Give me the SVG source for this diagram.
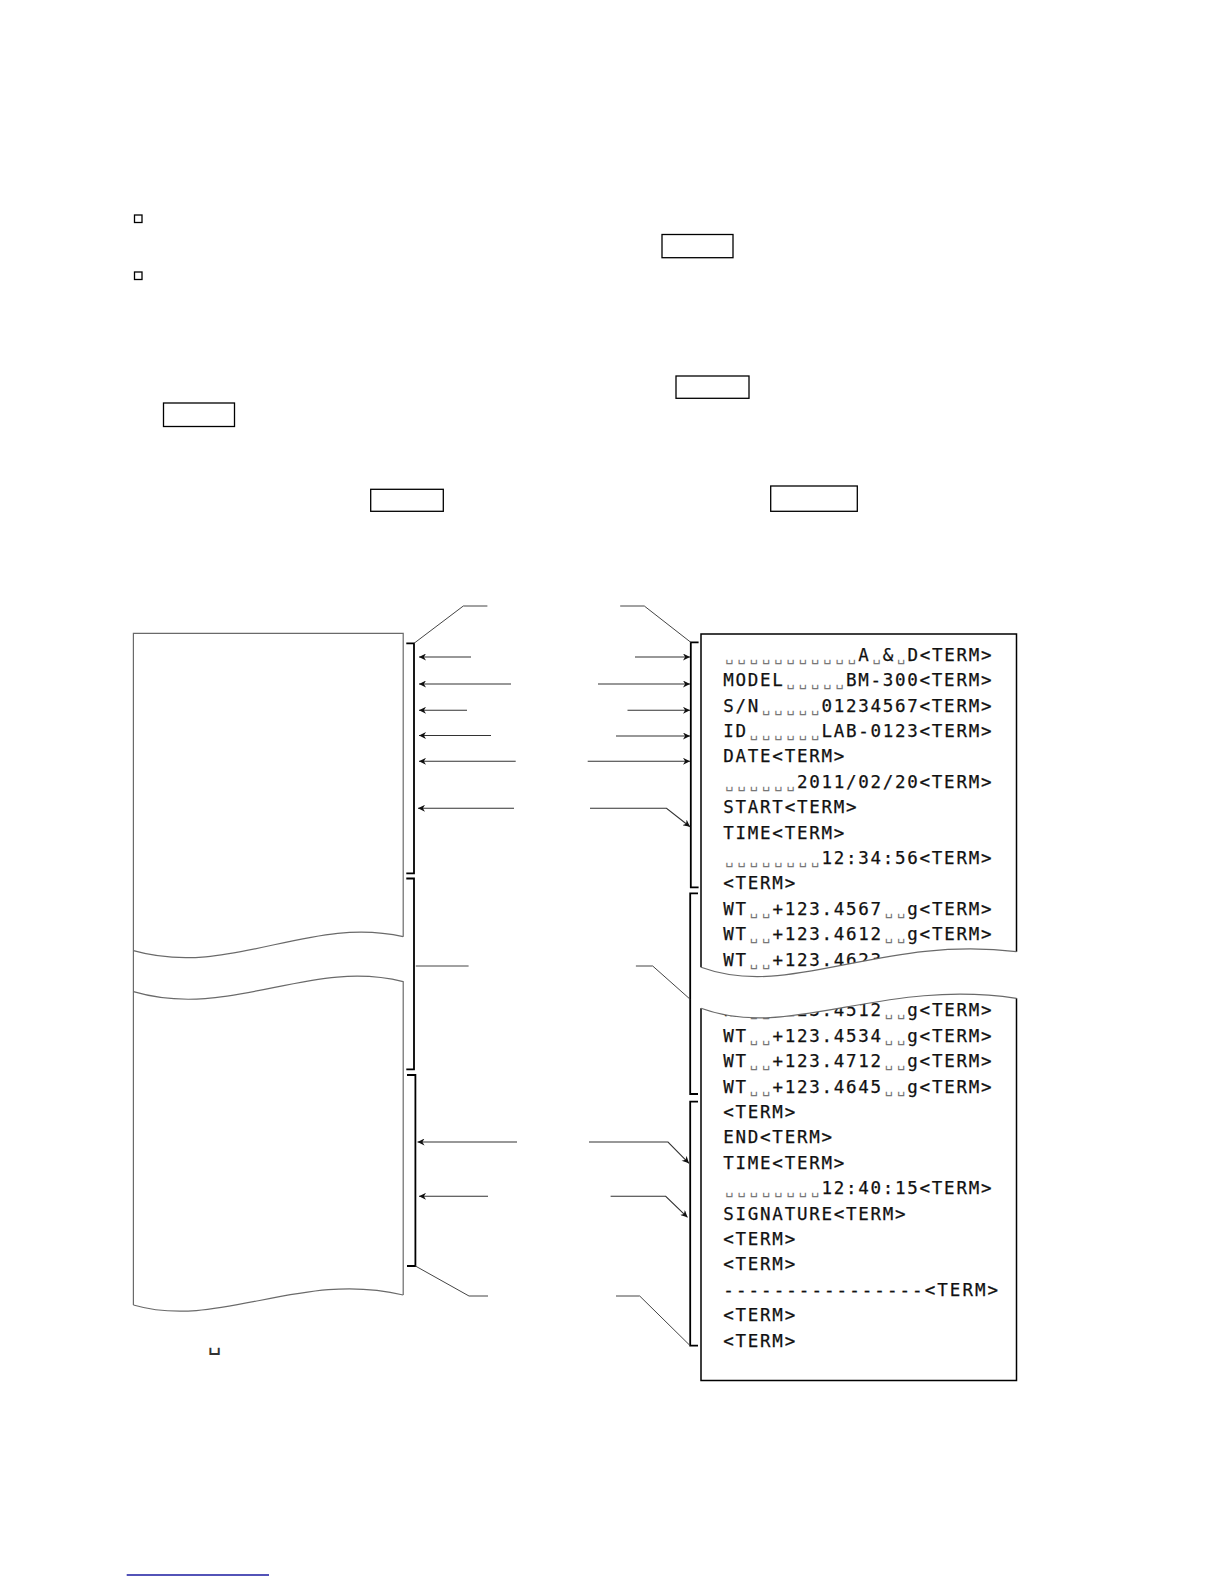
<svg xmlns="http://www.w3.org/2000/svg" width="1224" height="1584" viewBox="0 0 1224 1584">
<style>
.key{fill:none;stroke:#000;stroke-width:1.3}
.strip{fill:none;stroke:#6a6a6a;stroke-width:1.2}
.br{fill:none;stroke:#000;stroke-width:1.8}
.ld{fill:none;stroke:#444;stroke-width:1}
.ar{fill:none;stroke:#333;stroke-width:1.1;marker-end:url(#ah)}
.paper{fill:none;stroke:#000;stroke-width:1.5}
.t{font-family:"DejaVu Sans Mono","Liberation Mono",monospace;font-size:17.5px;letter-spacing:1.73px;fill:#111;stroke:#111;stroke-width:0.25}
.s{font-size:14px;letter-spacing:3.84px;fill:#777;stroke:none}
</style>
<defs>
<marker id="ah" viewBox="0 0 10 10" refX="10" refY="5" markerWidth="8" markerHeight="7" markerUnits="userSpaceOnUse" orient="auto">
<path d="M0,0 L10,5 L0,10 L3,5 Z" fill="#111"/>
</marker>
</defs>
<rect width="1224" height="1584" fill="#fff"/>

<g id="keys">
<rect id="sq1" class="key" x="134.5" y="215" width="7.5" height="7.5"/>
<rect id="sq2" class="key" x="134.5" y="272" width="7.5" height="7.5"/>
<rect id="box1" class="key" x="662" y="234.5" width="71" height="23.2"/>
<rect id="box2" class="key" x="676" y="376" width="73" height="22.3"/>
<rect id="box3" class="key" x="163.5" y="403" width="71" height="23.5"/>
<rect id="box4" class="key" x="370.7" y="489.3" width="72.6" height="22"/>
<rect id="box5" class="key" x="770.7" y="486" width="86.6" height="25.3"/>
</g>

<g id="left-strip">
<path class="strip" d="M133.4,1305 V633.3 H403.2 V936.7"/>
<path class="strip" d="M133.4,950.7 C230,978 310,915 403.2,936.7"/>
<path class="strip" d="M133.4,991.7 C230,1020 310,958 403.2,981.7 V1295"/>
<path class="strip" d="M133.4,1305 C220,1330 300,1270 403.2,1295"/>
</g>

<g id="brackets">
<path id="lb1" class="br" d="M406.3,643.3 H414 V873.3 H406.3"/>
<path id="lb2" class="br" d="M406.3,878.5 H414 V1069.3 H406.3"/>
<path id="lb3" class="br" d="M407,1075 H415.4 V1266 H407"/>
<path id="rb1" class="br" d="M698.6,642.3 H690.8 V887.3 H698.6"/>
<path id="rb2" class="br" d="M698,893.3 H690.2 V1094 H698"/>
<path id="rb3" class="br" d="M698,1101.7 H690.2 V1345.7 H698"/>
</g>

<g id="connectors">
<polyline class="ld" points="414,643.3 463.3,606 487.4,606"/>
<polyline class="ld" points="620.2,606 644.3,606 690.8,642.3"/>
<polyline class="ld" points="415.8,966 468.6,966"/>
<polyline class="ld" points="635.9,966 652.7,966 690.2,999.3"/>
<polyline class="ld" points="415.4,1266 469,1296 488,1296"/>
<polyline class="ld" points="616,1296 639.7,1296 690.2,1345.7"/>

<line class="ar" x1="471" y1="657" x2="419" y2="657"/>
<line class="ar" x1="511" y1="684" x2="419" y2="684"/>
<line class="ar" x1="467" y1="710.3" x2="419" y2="710.3"/>
<line class="ar" x1="491" y1="735.5" x2="419" y2="735.5"/>
<line class="ar" x1="515.7" y1="761.3" x2="419" y2="761.3"/>
<line class="ar" x1="514" y1="808.3" x2="418" y2="808.3"/>
<line class="ar" x1="517" y1="1142" x2="417.5" y2="1142"/>
<line class="ar" x1="488" y1="1196.3" x2="419" y2="1196.3"/>

<line class="ar" x1="635" y1="657" x2="690" y2="657"/>
<line class="ar" x1="598" y1="684" x2="690" y2="684"/>
<line class="ar" x1="627.5" y1="710.3" x2="690" y2="710.3"/>
<line class="ar" x1="616" y1="736" x2="690" y2="736"/>
<line class="ar" x1="587.7" y1="761.3" x2="690" y2="761.3"/>
<polyline class="ar" points="590,808.3 666.5,808.3 690,826.7"/>
<polyline class="ar" points="589,1142 668,1142 689,1163.3"/>
<polyline class="ar" points="610.6,1196.3 665.7,1196.3 687.5,1217.3"/>
</g>

<g id="printout">
<g class="t">
<text x="723.3" y="660.7"><tspan class="s" dx="1.9">␣␣␣␣␣␣␣␣␣␣␣</tspan><tspan dx="-1.9">A</tspan><tspan class="s" dx="1.9">␣</tspan><tspan dx="-1.9">&amp;</tspan><tspan class="s" dx="1.9">␣</tspan><tspan dx="-1.9">D&lt;TERM&gt;</tspan></text>
<text x="723.3" y="686.1">MODEL<tspan class="s" dx="1.9">␣␣␣␣␣</tspan><tspan dx="-1.9">BM-300&lt;TERM&gt;</tspan></text>
<text x="723.3" y="711.5">S/N<tspan class="s" dx="1.9">␣␣␣␣␣</tspan><tspan dx="-1.9">01234567&lt;TERM&gt;</tspan></text>
<text x="723.3" y="736.9">ID<tspan class="s" dx="1.9">␣␣␣␣␣␣</tspan><tspan dx="-1.9">LAB-0123&lt;TERM&gt;</tspan></text>
<text x="723.3" y="762.3">DATE&lt;TERM&gt;</text>
<text x="723.3" y="787.7"><tspan class="s" dx="1.9">␣␣␣␣␣␣</tspan><tspan dx="-1.9">2011/02/20&lt;TERM&gt;</tspan></text>
<text x="723.3" y="813.1">START&lt;TERM&gt;</text>
<text x="723.3" y="838.5">TIME&lt;TERM&gt;</text>
<text x="723.3" y="863.9"><tspan class="s" dx="1.9">␣␣␣␣␣␣␣␣</tspan><tspan dx="-1.9">12:34:56&lt;TERM&gt;</tspan></text>
<text x="723.3" y="889.3">&lt;TERM&gt;</text>
<text x="723.3" y="914.7">WT<tspan class="s" dx="1.9">␣␣</tspan><tspan dx="-1.9">+123.4567</tspan><tspan class="s" dx="1.9">␣␣</tspan><tspan dx="-1.9">g&lt;TERM&gt;</tspan></text>
<text x="723.3" y="940.1">WT<tspan class="s" dx="1.9">␣␣</tspan><tspan dx="-1.9">+123.4612</tspan><tspan class="s" dx="1.9">␣␣</tspan><tspan dx="-1.9">g&lt;TERM&gt;</tspan></text>
<text x="723.3" y="965.5">WT<tspan class="s" dx="1.9">␣␣</tspan><tspan dx="-1.9">+123.4623</tspan></text>
<text x="723.3" y="1016.3">WT<tspan class="s" dx="1.9">␣␣</tspan><tspan dx="-1.9">+123.4512</tspan><tspan class="s" dx="1.9">␣␣</tspan><tspan dx="-1.9">g&lt;TERM&gt;</tspan></text>
<text x="723.3" y="1041.7">WT<tspan class="s" dx="1.9">␣␣</tspan><tspan dx="-1.9">+123.4534</tspan><tspan class="s" dx="1.9">␣␣</tspan><tspan dx="-1.9">g&lt;TERM&gt;</tspan></text>
<text x="723.3" y="1067.1">WT<tspan class="s" dx="1.9">␣␣</tspan><tspan dx="-1.9">+123.4712</tspan><tspan class="s" dx="1.9">␣␣</tspan><tspan dx="-1.9">g&lt;TERM&gt;</tspan></text>
<text x="723.3" y="1092.5">WT<tspan class="s" dx="1.9">␣␣</tspan><tspan dx="-1.9">+123.4645</tspan><tspan class="s" dx="1.9">␣␣</tspan><tspan dx="-1.9">g&lt;TERM&gt;</tspan></text>
<text x="723.3" y="1117.9">&lt;TERM&gt;</text>
<text x="723.3" y="1143.3">END&lt;TERM&gt;</text>
<text x="723.3" y="1168.7">TIME&lt;TERM&gt;</text>
<text x="723.3" y="1194.1"><tspan class="s" dx="1.9">␣␣␣␣␣␣␣␣</tspan><tspan dx="-1.9">12:40:15&lt;TERM&gt;</tspan></text>
<text x="723.3" y="1219.5">SIGNATURE&lt;TERM&gt;</text>
<text x="723.3" y="1244.9">&lt;TERM&gt;</text>
<text x="723.3" y="1270.3">&lt;TERM&gt;</text>
<text x="723.3" y="1295.7" letter-spacing="2.05">----------------&lt;TERM&gt;</text>
<text x="723.3" y="1321.1">&lt;TERM&gt;</text>
<text x="723.3" y="1346.5">&lt;TERM&gt;</text>
</g>
<path d="M700,967.3 C790,1000 880,935 1018,951.7 L1018,998.3 C880,978 790,1041 700,1008.3 Z" fill="#fff"/>
<path class="paper" d="M701,967.3 V634 H1016.5 V951.7"/>
<path class="paper" d="M701,1008.3 V1380.6 H1016.5 V998.3"/>
<path class="strip" d="M701,967.3 C790,1000 880,935 1016.5,951.7"/>
<path class="strip" d="M701,1008.3 C790,1041 880,978 1016.5,998.3"/>
</g>

<text x="207.5" y="1350" font-family="DejaVu Sans Mono, monospace" font-size="23" fill="#333">␣</text>
<line x1="126.7" y1="1575" x2="269" y2="1575" stroke="#1a1aa0" stroke-width="1.3"/>
</svg>
